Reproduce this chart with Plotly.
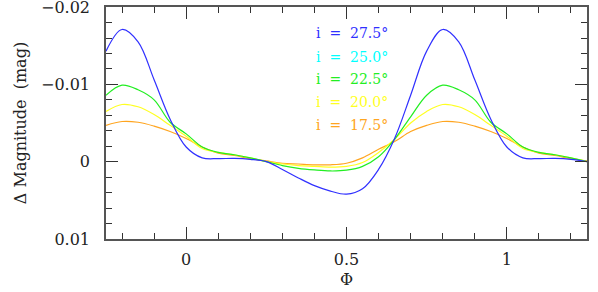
import plotly.graph_objects as go

phase = [-0.25, -0.20, -0.15, -0.10, -0.05, 0.00, 0.05, 0.10, 0.15, 0.20, 0.25, 0.30, 0.35, 0.40, 0.45,
         0.50, 0.55, 0.60, 0.65, 0.70, 0.75, 0.80, 0.85, 0.90, 0.95, 1.00, 1.05, 1.10, 1.15, 1.20, 1.25]

# one period (phase 0.00 .. 0.95), values in mag
blue_p = [-0.0019, -0.0005, -0.0004, -0.00042, -0.0003, 0.0000, 0.0010, 0.0021, 0.0031, 0.0038,
          0.0042, 0.0035, 0.0010, -0.0030, -0.0086, -0.0143, -0.0171, -0.0155, -0.0106, -0.0055]
green_p = [-0.0036, -0.0019, -0.0012, -0.0009, -0.0005, 0.0000, 0.0005, 0.00086, 0.00107, 0.0012,
           0.0011, 0.0006, -0.00065, -0.0029, -0.0058, -0.0086, -0.0099, -0.0093, -0.0080, -0.0051]
yellow_p = [-0.0033, -0.0017, -0.0012, -0.0009, -0.0005, 0.0000, 0.0003, 0.0005, 0.0006, 0.0007,
            0.0006, 0.0001, -0.0012, -0.0029, -0.0050, -0.0065, -0.0074, -0.0071, -0.0061, -0.0047]
orange_p = [-0.0030, -0.0019, -0.0011, -0.0008, -0.0004, -0.0001, 0.0002, 0.0003, 0.0004, 0.0004,
            0.0002, -0.0005, -0.0016, -0.0026, -0.0039, -0.0047, -0.0052, -0.0051, -0.0046, -0.0039]

labels = ["i\u00a0 =\u00a0 27.5°", "i\u00a0 =\u00a0 25.0°", "i\u00a0 =\u00a0 22.5°",
          "i\u00a0 =\u00a0 20.0°", "i\u00a0 =\u00a0 17.5°"]
label_colors = ["#3030ff", "#00ffff", "#22ee22", "#ffff22", "#ffa520"]
label_y = [-0.0166, -0.0136, -0.0107, -0.0077, -0.0047]


def wrap(period):
    # period values for phases 0..0.95 -> full phase grid -0.25..1.25
    out = []
    for ph in phase:
        k = int(round((ph % 1.0) / 0.05)) % 20
        out.append(period[k])
    return out


fig = go.Figure()
series = [(orange_p, "#ffa520"), (yellow_p, "#ffff22"), (green_p, "#22ee22"), (blue_p, "#3030ff")]
for vals, col in series:
    fig.add_trace(go.Scatter(x=phase, y=wrap(vals), mode="lines",
                             line=dict(color=col, width=1.2, shape="spline", smoothing=1.0),
                             showlegend=False, hoverinfo="skip"))

for txt, col, yy in zip(labels, label_colors, label_y):
    fig.add_annotation(x=0.40, y=yy, xref="x", yref="y", text=txt, showarrow=False,
                       xanchor="left", yanchor="middle",
                       font=dict(family="DejaVu Serif", size=14, color=col))

axis_common = dict(showline=True, linecolor="#555555", linewidth=1.5, mirror="allticks",
                   ticks="inside", tickcolor="#333333", tickwidth=1.2, ticklen=12,
                   showgrid=False, zeroline=False, automargin=False, ticklabeloverflow="allow",
                   tickfont=dict(family="DejaVu Serif", size=16, color="#222222"))

fig.update_xaxes(range=[-0.25, 1.25], tickvals=[0, 0.5, 1], ticktext=["0", "0.5", "1"],
                 ticklabelstandoff=5,
                 minor=dict(dtick=0.1, tick0=0, ticks="inside", ticklen=6, tickcolor="#333333", tickwidth=1.2),
                 title=dict(text="Φ", font=dict(family="DejaVu Serif", size=16, color="#222222"), standoff=6),
                 **axis_common)
fig.update_yaxes(range=[0.01, -0.02001], tickvals=[-0.02, -0.01, 0, 0.01],
                 ticktext=["\u22120.02", "\u22120.01", "0", "0.01"],
                 ticklabelstandoff=11,
                 minor=dict(dtick=0.002, tick0=0, ticks="inside", ticklen=6, tickcolor="#333333", tickwidth=1.2),
                 title=dict(text="Δ Magnitude\u00a0 (mag)", font=dict(family="DejaVu Serif", size=16, color="#222222"), standoff=10),
                 **axis_common)

fig.update_layout(width=598, height=292, margin=dict(l=106, r=11, t=7, b=53),
                  plot_bgcolor="white", paper_bgcolor="white")

fig.write_html("out.html", config={"displayModeBar": False},
               post_script="document.body.style.margin='0px';")
